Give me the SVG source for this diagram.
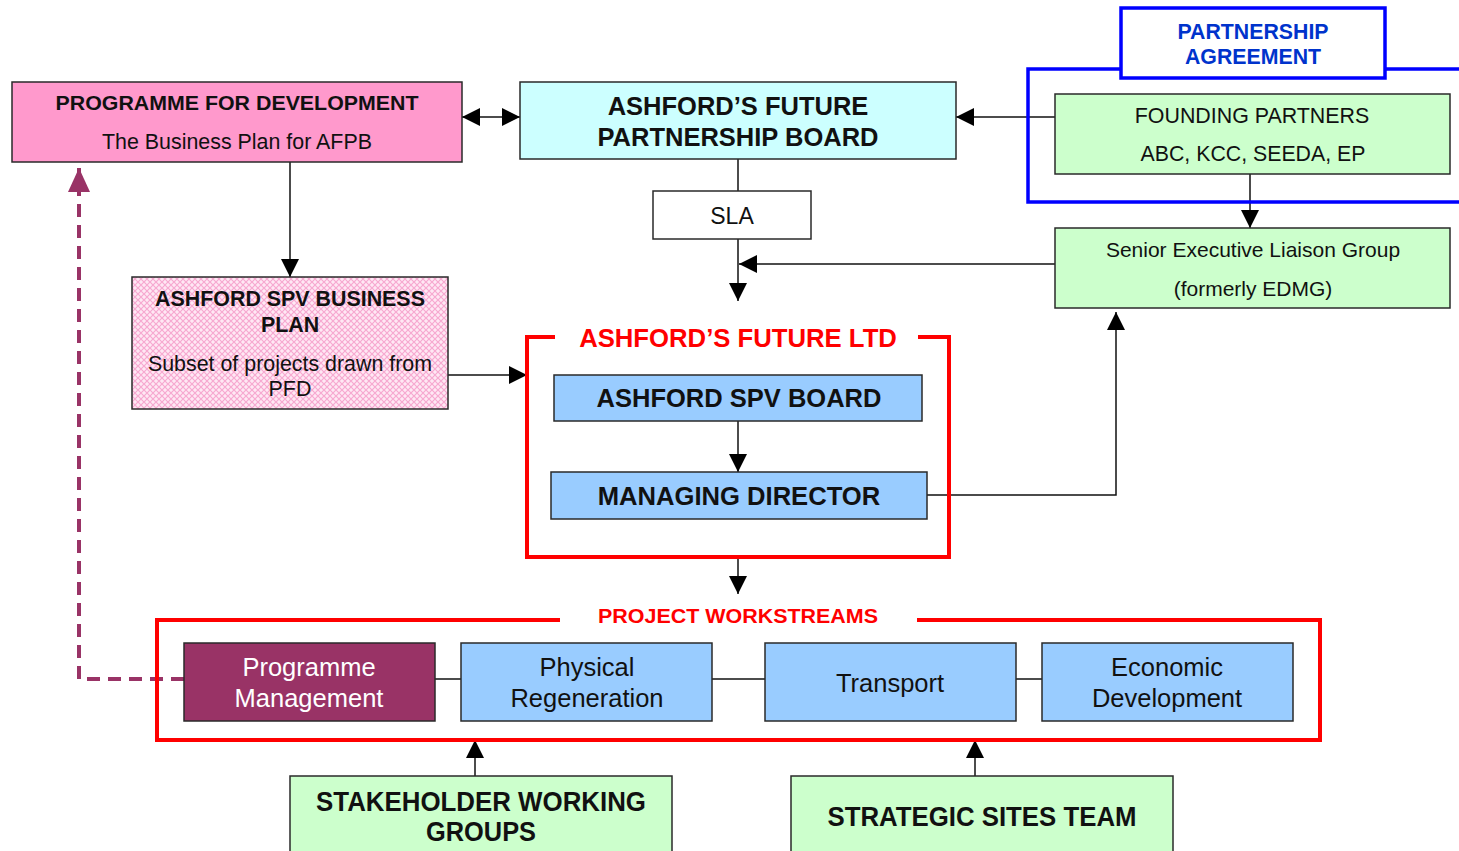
<svg xmlns="http://www.w3.org/2000/svg" width="1459" height="851" viewBox="0 0 1459 851">
  <defs>
    <style>
      text { font-family: "Liberation Sans", Arial, sans-serif; fill: #111; text-anchor: middle; }
      .b { font-weight: bold; }
      .box { stroke: #2a2a2a; stroke-width: 1.5; }
      .pink { fill: #FF99CC; }
      .cyan { fill: #CCFFFF; }
      .green { fill: #CCFFCC; }
      .blue { fill: #99CCFF; }
      .plum { fill: #993366; }
      .white { fill: #FFFFFF; }
      .link { fill: none; stroke: #111; stroke-width: 1.5; }
      .redframe { fill: none; stroke: #FF0000; stroke-width: 4; }
      .blueframe { fill: none; stroke: #0000FF; stroke-width: 3.5; }
      .dash { fill: none; stroke: #993366; stroke-width: 4; stroke-dasharray: 13 8; }
    </style>
    <marker id="arrow" markerUnits="userSpaceOnUse" markerWidth="18" markerHeight="18" viewBox="0 0 18 18" refX="18" refY="9" orient="auto-start-reverse">
      <path d="M0,0 L18,9 L0,18 Z" fill="#000"/>
    </marker>
    <marker id="arrowPlum" markerUnits="userSpaceOnUse" markerWidth="24" markerHeight="24" viewBox="0 0 24 24" refX="24" refY="12" orient="auto">
      <path d="M0,1 L24,12 L0,23 Z" fill="#993366"/>
    </marker>
    <pattern id="hatch" patternUnits="userSpaceOnUse" width="6" height="6">
      <rect width="6" height="6" fill="#FFE8F4"/>
      <path d="M0,0 L6,6 M6,0 L0,6" stroke="#F7A8D0" stroke-width="1.2"/>
    </pattern>
  </defs>

  <!-- connectors -->
  <g id="connectors">
    <line class="link" x1="462" y1="117" x2="520" y2="117" marker-start="url(#arrow)" marker-end="url(#arrow)"/>
    <line class="link" x1="1055" y1="117" x2="956" y2="117" marker-end="url(#arrow)"/>
    <line class="link" x1="1250" y1="174" x2="1250" y2="228" marker-end="url(#arrow)"/>
    <line class="link" x1="738" y1="159" x2="738" y2="191"/>
    <line class="link" x1="738" y1="239" x2="738" y2="301" marker-end="url(#arrow)"/>
    <line class="link" x1="1055" y1="264" x2="739" y2="264" marker-end="url(#arrow)"/>
    <line class="link" x1="290" y1="162" x2="290" y2="277" marker-end="url(#arrow)"/>
    <line class="link" x1="448" y1="375" x2="527" y2="375" marker-end="url(#arrow)"/>
    <line class="link" x1="738" y1="421" x2="738" y2="472" marker-end="url(#arrow)"/>
    <polyline class="link" points="927,495 1116,495 1116,312" marker-end="url(#arrow)"/>
    <line class="link" x1="738" y1="557" x2="738" y2="594" marker-end="url(#arrow)"/>
    <line class="link" x1="435" y1="679" x2="461" y2="679"/>
    <line class="link" x1="712" y1="679" x2="765" y2="679"/>
    <line class="link" x1="1016" y1="679" x2="1042" y2="679"/>
    <line class="link" x1="475" y1="776" x2="475" y2="740" marker-end="url(#arrow)"/>
    <line class="link" x1="975" y1="776" x2="975" y2="740" marker-end="url(#arrow)"/>
    <polyline class="dash" points="184,679 79,679 79,168" marker-end="url(#arrowPlum)"/>
  </g>

  <!-- partnership agreement frame -->
  <g id="partnership-agreement">
    <path class="blueframe" d="M1121,69 H1028 V202 H1462 M1385,69 H1462"/>
    <rect class="white" x="1121" y="8" width="264" height="70" stroke="#0000FF" stroke-width="3.5"/>
    <text class="b" x="1253" y="39" font-size="21.3" style="fill:#0033CC">PARTNERSHIP</text>
    <text class="b" x="1253" y="64" font-size="21.3" style="fill:#0033CC">AGREEMENT</text>
  </g>

  <g id="founding-partners">
    <rect class="box green" x="1055" y="94" width="395" height="80"/>
    <text x="1252" y="123" font-size="21.4">FOUNDING PARTNERS</text>
    <text x="1253" y="161" font-size="21.3">ABC, KCC, SEEDA, EP</text>
  </g>

  <g id="programme-for-development">
    <rect class="box pink" x="12" y="82" width="450" height="80"/>
    <text class="b" x="237" y="110" font-size="20" textLength="363" lengthAdjust="spacingAndGlyphs">PROGRAMME FOR DEVELOPMENT</text>
    <text x="237" y="149" font-size="21.4">The Business Plan for AFPB</text>
  </g>

  <g id="partnership-board">
    <rect class="box cyan" x="520" y="82" width="436" height="77"/>
    <text class="b" x="738" y="115" font-size="25.5">ASHFORD’S FUTURE</text>
    <text class="b" x="738" y="146" font-size="25.5">PARTNERSHIP BOARD</text>
  </g>

  <g id="sla">
    <rect class="box white" x="653" y="191" width="158" height="48"/>
    <text x="732" y="224" font-size="23">SLA</text>
  </g>

  <g id="senior-executive-liaison">
    <rect class="box green" x="1055" y="228" width="395" height="80"/>
    <text x="1253" y="257" font-size="21">Senior Executive Liaison Group</text>
    <text x="1253" y="296" font-size="21">(formerly EDMG)</text>
  </g>

  <g id="spv-business-plan">
    <rect class="box" fill="url(#hatch)" x="132" y="277" width="316" height="132"/>
    <text class="b" x="290" y="306" font-size="21.4">ASHFORD SPV BUSINESS</text>
    <text class="b" x="290" y="332" font-size="21.4">PLAN</text>
    <text x="290" y="371" font-size="21.4">Subset of projects drawn from</text>
    <text x="290" y="396" font-size="21.4">PFD</text>
  </g>

  <!-- company frame with board and director -->
  <g id="ashfords-future-ltd">
    <path class="redframe" d="M555,337 H527 V557 H949 V337 H918"/>
    <text class="b" x="738" y="347" font-size="25.7" style="fill:#FF0000">ASHFORD’S FUTURE LTD</text>
  </g>

  <g id="spv-board">
    <rect class="box blue" x="554" y="375" width="368" height="46"/>
    <text class="b" x="739" y="407" font-size="25.5">ASHFORD SPV BOARD</text>
  </g>

  <g id="managing-director">
    <rect class="box blue" x="551" y="472" width="376" height="47"/>
    <text class="b" x="739" y="505" font-size="25.6">MANAGING DIRECTOR</text>
  </g>

  <!-- workstreams frame -->
  <g id="project-workstreams">
    <path class="redframe" d="M560,620 H157 V740 H1320 V620 H917"/>
    <text class="b" x="738" y="623" font-size="20" textLength="280" lengthAdjust="spacingAndGlyphs" style="fill:#FF0000">PROJECT WORKSTREAMS</text>
  </g>

  <g id="programme-management">
    <rect class="box plum" x="184" y="643" width="251" height="78"/>
    <text x="309" y="676" font-size="25.5" style="fill:#FFFFFF">Programme</text>
    <text x="309" y="707" font-size="25.5" style="fill:#FFFFFF">Management</text>
  </g>

  <g id="physical-regeneration">
    <rect class="box blue" x="461" y="643" width="251" height="78"/>
    <text x="587" y="676" font-size="25.5">Physical</text>
    <text x="587" y="707" font-size="25.5">Regeneration</text>
  </g>

  <g id="transport">
    <rect class="box blue" x="765" y="643" width="251" height="78"/>
    <text x="890" y="692" font-size="25.5">Transport</text>
  </g>

  <g id="economic-development">
    <rect class="box blue" x="1042" y="643" width="251" height="78"/>
    <text x="1167" y="676" font-size="25.5">Economic</text>
    <text x="1167" y="707" font-size="25.5">Development</text>
  </g>

  <g id="stakeholder-working-groups">
    <rect class="box green" x="290" y="776" width="382" height="80"/>
    <text class="b" x="481" y="811" font-size="27" textLength="330" lengthAdjust="spacingAndGlyphs">STAKEHOLDER WORKING</text>
    <text class="b" x="481" y="841" font-size="27" textLength="110" lengthAdjust="spacingAndGlyphs">GROUPS</text>
  </g>

  <g id="strategic-sites-team">
    <rect class="box green" x="791" y="776" width="382" height="80"/>
    <text class="b" x="982" y="826" font-size="27" textLength="309" lengthAdjust="spacingAndGlyphs">STRATEGIC SITES TEAM</text>
  </g>
</svg>
